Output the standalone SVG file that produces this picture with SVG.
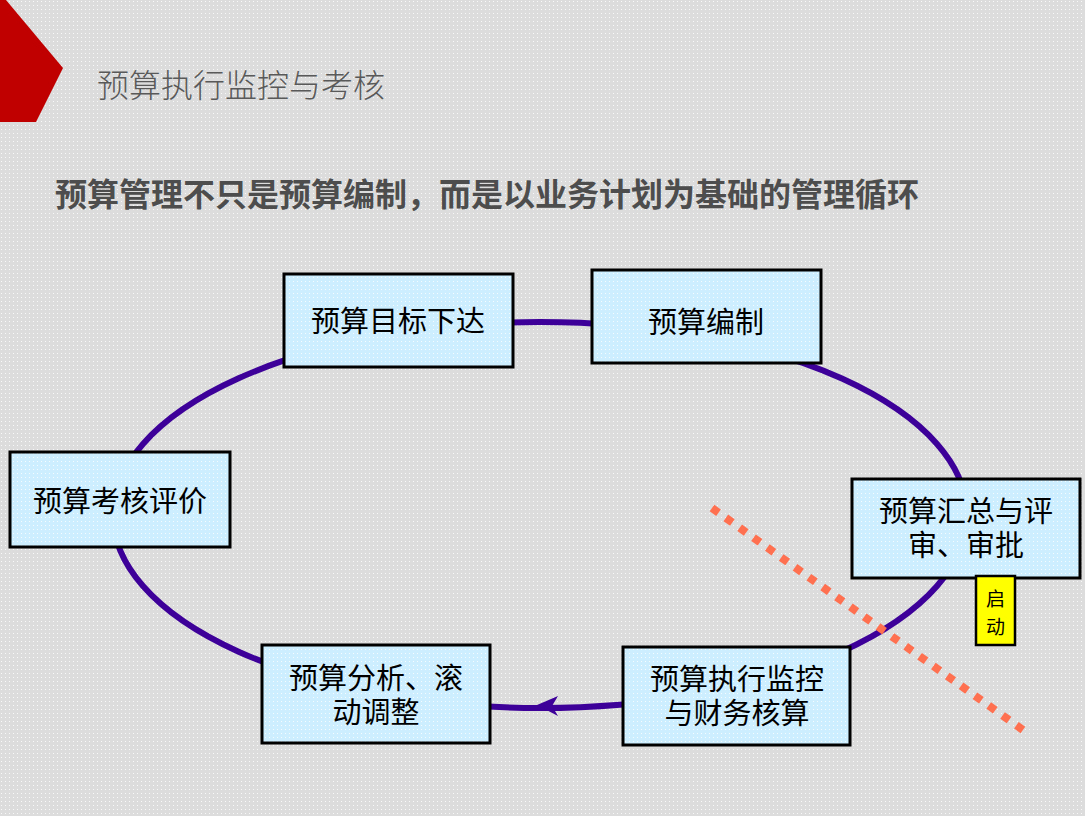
<svg xmlns="http://www.w3.org/2000/svg" width="1085" height="816" viewBox="0 0 1085 816">
<defs>
<pattern id="dotsBg" width="4" height="4" patternUnits="userSpaceOnUse"><rect width="4" height="4" fill="#dcdcdc"/><rect x="1" y="1" width="1" height="1" fill="#ffffff" opacity="0.8"/></pattern>
<pattern id="dotsBox" width="4" height="4" patternUnits="userSpaceOnUse"><rect width="4" height="4" fill="#cdeeff"/><rect x="1" y="1" width="1" height="1" fill="#ffffff" opacity="0.8"/></pattern>
<style>
.box{fill:url(#dotsBox);stroke:#000;stroke-width:3}
.t{font-family:"Noto Sans CJK SC","Noto Sans",sans-serif;font-size:29px;fill:#000;text-anchor:middle}
.y{font-family:"Noto Sans CJK SC","Noto Sans",sans-serif;font-size:19px;fill:#000;text-anchor:middle}
</style>
</defs>
<rect width="1085" height="816" fill="url(#dotsBg)"/>
<polygon points="0,0 6,0 63,68 36,122 0,122" fill="#c00000"/>
<text x="97" y="97" font-family="'Noto Sans CJK SC',sans-serif" font-size="32" font-weight="300" fill="#595959">预算执行监控与考核</text>
<text x="55" y="206" font-family="'Noto Sans CJK SC',sans-serif" font-size="32" font-weight="bold" fill="#4d4d4d">预算管理不只是预算编制，而是以业务计划为基础的管理循环</text>
<g id="connectors">
<ellipse cx="540" cy="515" rx="427" ry="193" fill="none" stroke="#3d0099" stroke-width="6"/>
<polygon points="537,705 558,696 552,706 558,716" fill="#3d0099"/>
</g>
<line x1="712" y1="508" x2="1030" y2="735" stroke="#ff7050" stroke-width="8" stroke-dasharray="8 9"/>
<g id="n1"><rect class="box" x="284" y="274" width="229" height="93"/><text class="t" x="398" y="332">预算目标下达</text></g>
<g id="n2"><rect class="box" x="592" y="270" width="229" height="93"/><text class="t" x="706" y="333">预算编制</text></g>
<g id="n3"><rect class="box" x="10" y="452" width="220" height="95"/><text class="t" x="120" y="512">预算考核评价</text></g>
<g id="n4"><rect class="box" x="852" y="479" width="228" height="99"/><text class="t" x="966" y="522">预算汇总与评</text><text class="t" x="966" y="556">审、审批</text></g>
<g id="n5"><rect class="box" x="262" y="645" width="228" height="98"/><text class="t" x="376" y="689">预算分析、滚</text><text class="t" x="376" y="723">动调整</text></g>
<g id="n6"><rect class="box" x="623" y="647" width="227" height="98"/><text class="t" x="737" y="690">预算执行监控</text><text class="t" x="737" y="724">与财务核算</text></g>
<g id="n7"><rect x="976" y="576" width="39" height="69" fill="#ffff00" stroke="#000" stroke-width="2.5"/><text class="y" x="995.5" y="606">启</text><text class="y" x="995.5" y="634">动</text></g>
</svg>
